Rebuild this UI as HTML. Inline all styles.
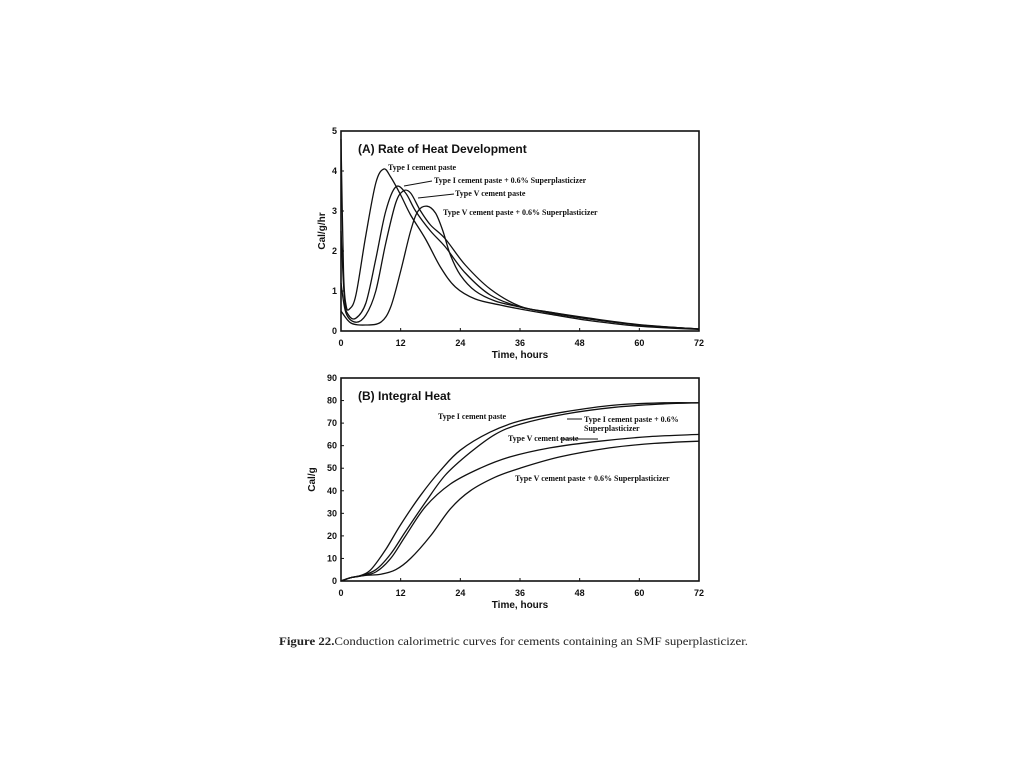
<!DOCTYPE html>
<html><head><meta charset="utf-8"><style>
html,body{margin:0;padding:0;background:#fff;}
svg{display:block;}
.t{font-family:"Liberation Sans",Arial,sans-serif;font-weight:bold;fill:#111;}
.s{font-family:"Liberation Serif",serif;font-weight:bold;fill:#111;font-size:8px;}
</style></head><body>
<svg id="chart" width="1024" height="768" viewBox="0 0 1024 768">
<g id="pa"></g>
<g id="pb"></g>
<text x="279" y="645" font-family="Liberation Serif,serif" font-size="12" fill="#222" textLength="469" lengthAdjust="spacingAndGlyphs"><tspan font-weight="bold">Figure 22.</tspan>Conduction calorimetric curves for cements containing an SMF superplasticizer.</text>
</svg>
<script>
const xTicks=[0,12,24,36,48,60,72];
const aTicks=[0,1,2,3,4,5];
const bTicks=[0,10,20,30,40,50,60,70,80,90];
const aTypeI=[[0,4.8],[0.5,1.5],[1,0.65],[1.7,0.55],[3,0.9],[5,2.4],[7,3.7],[8.6,4.05],[10,3.85],[12,3.4],[14,2.9],[17,2.3],[20,1.6],[23,1.1],[27,0.8],[32,0.65],[36,0.55],[42,0.42],[50,0.26],[60,0.12],[72,0.04]];
const aTypeISP=[[0,2.5],[0.7,0.8],[1.5,0.4],[3,0.32],[5,0.7],[7,1.8],[9,3.0],[11,3.6],[13,3.45],[15,3.0],[18,2.5],[21,2.1],[25,1.45],[30,0.9],[36,0.6],[42,0.47],[50,0.32],[60,0.16],[72,0.05]];
const aTypeV=[[0,1.2],[1,0.45],[3,0.22],[5,0.4],[7,1.0],[9,2.2],[11,3.2],[12.5,3.5],[14,3.45],[16,3.0],[18,2.65],[21,2.3],[25,1.65],[30,1.05],[36,0.62],[42,0.47],[50,0.3],[60,0.15],[72,0.05]];
const aTypeVSP=[[0,0.5],[2,0.2],[5,0.15],[8,0.22],[10,0.6],[12,1.5],[14,2.5],[15.5,3.0],[17.3,3.12],[19,2.95],[20.5,2.5],[22,1.9],[24,1.4],[27,1.0],[31,0.75],[36,0.6],[42,0.45],[50,0.3],[60,0.15],[72,0.05]];
const bTypeI=[[0,0],[2,1.5],[4,2.5],[6,5],[9,14],[12,25],[16,38],[20,49],[24,58],[30,66],[36,71],[45,75],[55,78],[65,79],[72,79]];
const bTypeISP=[[0,0],[2,1.5],[4,2.3],[7,5],[10,12],[13,22],[17,35],[21,47],[26,57],[31,65],[36,69.5],[45,74],[55,77],[65,78.5],[72,79]];
const bTypeV=[[0,0],[2,1.5],[4,2.2],[7,4],[10,10],[13,20],[17,33],[22,43],[28,50],[34,55],[42,59],[52,62],[62,64],[72,65]];
const bTypeVSP=[[0,0],[2,1.5],[5,2.5],[8,3],[11,5],[14,10],[18,20],[22,32],[26,40],[31,46],[36,50],[44,55],[54,59],[63,61],[72,62]];
const NS="http://www.w3.org/2000/svg";
function mk(p,tag,at){const e=document.createElementNS(NS,tag);for(const k in at)e.setAttribute(k,at[k]);p.appendChild(e);return e;}
function smooth(pts){let d="M"+pts[0][0]+","+pts[0][1];for(let i=0;i<pts.length-1;i++){const p0=pts[Math.max(0,i-1)],p1=pts[i],p2=pts[i+1],p3=pts[Math.min(pts.length-1,i+2)];const c1x=p1[0]+(p2[0]-p0[0])/6,c1y=p1[1]+(p2[1]-p0[1])/6,c2x=p2[0]-(p3[0]-p1[0])/6,c2y=p2[1]-(p3[1]-p1[1])/6;d+=" C"+c1x.toFixed(1)+","+c1y.toFixed(1)+" "+c2x.toFixed(1)+","+c2y.toFixed(1)+" "+p2[0].toFixed(1)+","+p2[1].toFixed(1);}return d;}
function panel(g,top,bot,ymax,yt,series,names,ytitle,ytx,title){
 const L=341,R=699;const X=v=>L+v/72*(R-L);const Y=v=>bot-v/ymax*(bot-top);
 const fr=mk(g,'rect',{x:L,y:top,width:R-L,height:bot-top,fill:'none',stroke:'#111','stroke-width':1.6});
 
 xTicks.forEach(v=>{const t=mk(g,'line',{x1:X(v),x2:X(v),y1:bot,y2:bot-3,stroke:'#111'});
  
  const l=mk(g,'text',{x:X(v),y:bot+15,'text-anchor':'middle','font-size':9,class:'t'});l.textContent=v;
  });
 yt.forEach(v=>{const t=mk(g,'line',{x1:L,x2:L+3,y1:Y(v),y2:Y(v),stroke:'#111'});
  
  const l=mk(g,'text',{x:L-4,y:Y(v)+3,'text-anchor':'end','font-size':9,class:'t'});l.textContent=v;
  });
 series.forEach((s,i)=>{const p=mk(g,'path',{d:smooth(s.map(q=>[X(q[0]),Y(q[1])])),fill:'none',stroke:'#111','stroke-width':1.3});
  });
 const xt=mk(g,'text',{x:520,y:bot+27,'text-anchor':'middle','font-size':10,class:'t'});xt.textContent='Time, hours';
 
 const yy=(top+bot)/2;const ya=mk(g,'text',{x:ytx,y:yy,'text-anchor':'middle','font-size':10,class:'t',transform:'rotate(-90 '+ytx+' '+yy+')'});ya.textContent=ytitle;
 
 const tt=mk(g,'text',{x:358,y:top+22,'font-size':12,class:'t'});tt.textContent=title;
 
}
const pa=document.getElementById('pa'),pb=document.getElementById('pb');
panel(pa,131,331,5,aTicks,[aTypeI,aTypeISP,aTypeV,aTypeVSP],['line-type-i','line-type-i-sp','line-type-v','line-type-v-sp'],'Cal/g/hr',325,'(A)  Rate of Heat Development');
panel(pb,378,581,90,bTicks,[bTypeI,bTypeISP,bTypeV,bTypeVSP],['line-type-i','line-type-i-sp','line-type-v','line-type-v-sp'],'Cal/g',315,'(B)  Integral Heat');
function lab(g,x,y,txt,name){const t=mk(g,'text',{x:x,y:y,class:'s'});t.textContent=txt;}
function arr(g,x1,y1,x2,y2){const l=mk(g,'line',{x1:x1,y1:y1,x2:x2,y2:y2,stroke:'#111','stroke-width':1});}
lab(pa,388,170,'Type I cement paste','label-type-i');
lab(pa,434,183,'Type I cement paste + 0.6% Superplasticizer','label-type-i-sp');arr(pa,432,181,404,186);
lab(pa,455,196,'Type V cement paste','label-type-v');arr(pa,454,194,418,198);
lab(pa,443,215,'Type V cement paste + 0.6% Superplasticizer','label-type-v-sp');
lab(pb,438,419,'Type I cement paste','label-type-i');
lab(pb,584,422,'Type I cement paste + 0.6%','label-type-i-sp');lab(pb,584,431,'Superplasticizer','label-type-i-sp-2');arr(pb,582,419,567,419);
lab(pb,508,441,'Type V cement paste','label-type-v');arr(pb,560,439,598,439);
lab(pb,515,481,'Type V cement paste + 0.6% Superplasticizer','label-type-v-sp');
</script>
</body></html>
